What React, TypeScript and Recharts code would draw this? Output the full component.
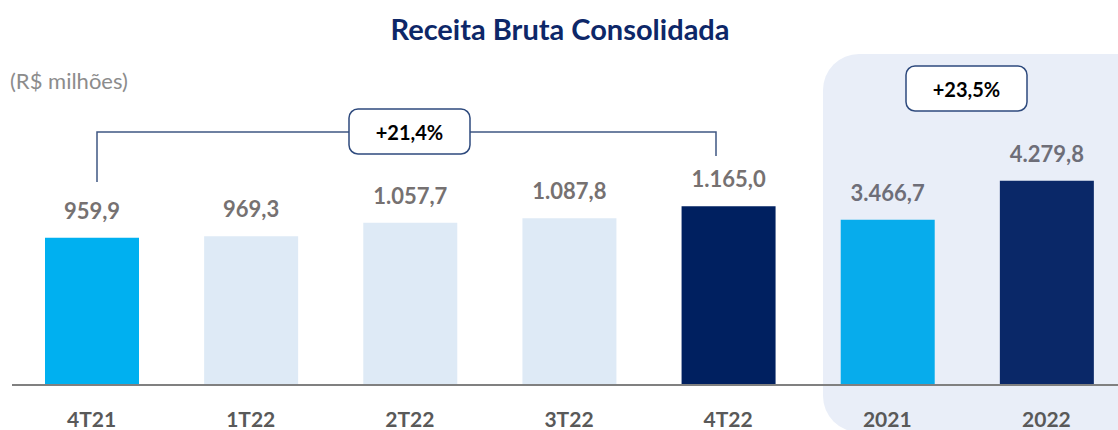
import React from "react";
import { BarChart, Bar, XAxis, YAxis, Cell, LabelList } from "recharts";

const categories = ["4T21", "1T22", "2T22", "3T22", "4T22", "2021", "2022"];
const quarterly = [959.9, 969.3, 1057.7, 1087.8, 1165.0, null, null];
const annual = [null, null, null, null, null, 3466.7, 4279.8];
const barColors = ["#00B0F0", "#DEEAF6", "#DEEAF6", "#DEEAF6", "#002060", "#07ACEC", "#0A2868"];

const data = categories.map((name, i) => ({
  name,
  quarterly: quarterly[i],
  annual: annual[i],
}));

const fmt = (v: any) => {
  if (v == null) return "";
  const [int, dec] = Number(v).toFixed(1).split(".");
  return int.replace(/\B(?=(\d{3})+(?!\d))/g, ".") + "," + dec;
};

const font = "Lato, 'Open Sans', sans-serif";
const labelStyle = { fill: "#767171", fontSize: 22, fontWeight: 700, fontFamily: font };
const lineColor = "#3F5783";

export default function App() {
  return (
    <div style={{ position: "absolute", left: 0, top: 0, width: 1118, height: 430, overflow: "hidden", background: "#fff", fontFamily: font }}>
      <svg width={1118} height={430} style={{ position: "absolute", left: 0, top: 0 }}>
        <rect x={823} y={54} width={330} height={378} rx={36} fill="#E9EEF8" />
      </svg>

      <div style={{ position: "absolute", left: 0, top: 0 }}>
        <BarChart
          width={1130}
          height={430}
          data={data}
          margin={{ top: 100, right: 4, bottom: 0, left: 12 }}
          barSize={94}
          barGap={-94}
        >
          <XAxis
            dataKey="name"
            axisLine={{ stroke: "#808080", strokeWidth: 2 }}
            tickLine={false}
            tickSize={0}
            tickMargin={27}
            height={45}
            tick={{ fill: "#595959", fontSize: 21, fontWeight: 700, fontFamily: font }}
          />
          <YAxis yAxisId="q" hide domain={[0, 1858]} />
          <YAxis yAxisId="a" hide domain={[0, 5975]} />
          <Bar dataKey="quarterly" yAxisId="q" isAnimationActive={false}>
            {data.map((_, i) => (
              <Cell key={i} fill={barColors[i]} />
            ))}
            <LabelList dataKey="quarterly" position="top" offset={19} formatter={fmt} style={labelStyle} />
          </Bar>
          <Bar dataKey="annual" yAxisId="a" isAnimationActive={false}>
            {data.map((_, i) => (
              <Cell key={i} fill={barColors[i]} />
            ))}
            <LabelList dataKey="annual" position="top" offset={19} formatter={fmt} style={{ ...labelStyle, fill: "#6E6E78" }} />
          </Bar>
        </BarChart>
      </div>

      <svg width={1118} height={430} style={{ position: "absolute", left: 0, top: 0, pointerEvents: "none" }}>
        <text x={560} y={28} textAnchor="middle" dominantBaseline="central" fill="#0D2768" fontSize={29} fontWeight={700} fontFamily={font}>
          Receita Bruta Consolidada
        </text>
        <text x={10} y={80} dominantBaseline="central" fill="#8C8C8C" fontSize={22} fontFamily={font}>
          (R$ milhões)
        </text>

        <polyline points="97,182 97,132 716,132 716,156" fill="none" stroke={lineColor} strokeWidth={1.5} />
        <rect x={349} y={109} width={121} height={45} rx={9} fill="#fff" stroke="#2E4A7D" strokeWidth={1.5} />
        <text x={409.5} y={132} textAnchor="middle" dominantBaseline="central" fill="#000" fontSize={20} fontWeight={700} fontFamily={font}>
          +21,4%
        </text>

        <rect x={906} y={66} width={121} height={45} rx={9} fill="#fff" stroke="#2E4A7D" strokeWidth={1.5} />
        <text x={966.5} y={89} textAnchor="middle" dominantBaseline="central" fill="#000" fontSize={20} fontWeight={700} fontFamily={font}>
          +23,5%
        </text>
      </svg>
    </div>
  );
}
